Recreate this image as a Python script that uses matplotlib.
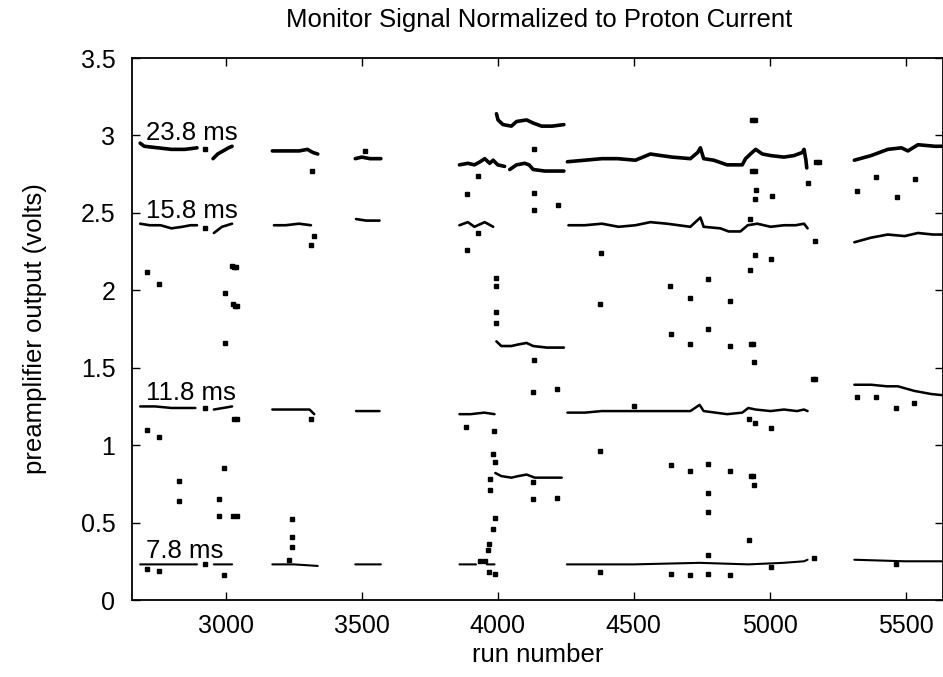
import numpy as np
import matplotlib
matplotlib.use("Agg")
import matplotlib.pyplot as plt

plt.rcParams["font.family"] = ["Liberation Sans", "DejaVu Sans"]

# --- data: runs of each delay, gaps split segments ---
SEG_238_X = [
    [2685, 2700, 2750, 2800, 2850, 2894],
    [2953, 2970, 2990, 3010, 3023],
    [3171, 3220, 3270, 3300, 3320, 3338],
    [3476, 3500, 3530, 3570],
    [3859, 3890, 3914, 3935, 3952, 3970, 3983, 4000, 4025],
    [3995, 4001, 4019, 4050, 4069, 4106, 4130, 4161, 4200, 4243],
    [4044, 4069, 4099, 4115, 4130, 4173, 4243],
    [4256, 4320, 4383, 4440, 4506, 4561, 4600, 4641, 4708, 4735, 4745, 4757,
     4794, 4843, 4899, 4911, 4929, 4948, 4973, 5003, 5052, 5089, 5120, 5126,
     5133, 5136],
    [5311, 5373, 5434, 5484, 5508, 5545, 5607, 5650],
]
SEG_238_Y = [
    [2.95, 2.93, 2.92, 2.91, 2.91, 2.92],
    [2.85, 2.88, 2.90, 2.92, 2.93],
    [2.90, 2.90, 2.90, 2.91, 2.89, 2.88],
    [2.85, 2.86, 2.85, 2.85],
    [2.81, 2.82, 2.81, 2.83, 2.85, 2.82, 2.84, 2.81, 2.80],
    [3.14, 3.10, 3.07, 3.06, 3.09, 3.10, 3.08, 3.06, 3.06, 3.07],
    [2.78, 2.81, 2.82, 2.81, 2.78, 2.77, 2.77],
    [2.83, 2.84, 2.85, 2.85, 2.84, 2.88, 2.87, 2.86, 2.85, 2.89, 2.92, 2.85,
     2.84, 2.81, 2.81, 2.85, 2.88, 2.91, 2.88, 2.87, 2.86, 2.87, 2.89, 2.91,
     2.84, 2.79],
    [2.84, 2.87, 2.91, 2.92, 2.90, 2.94, 2.93, 2.93],
]

SEG_158_X = [
    [2685, 2720, 2760, 2800, 2840, 2870, 2894],
    [2956, 2986, 3023],
    [3177, 3220, 3269, 3313],
    [3479, 3516, 3565],
    [3859, 3890, 3914, 3952, 3983],
    [3995, 4013, 4050, 4075, 4106, 4130, 4180, 4243],
    [4260, 4320, 4383, 4444, 4506, 4561, 4622, 4708, 4745, 4757, 4818, 4849,
     4892, 4919, 4954, 5003, 5052, 5095, 5126, 5139],
    [5311, 5373, 5434, 5496, 5545, 5600, 5650],
]
SEG_158_Y = [
    [2.43, 2.42, 2.42, 2.40, 2.41, 2.42, 2.42],
    [2.37, 2.41, 2.43],
    [2.42, 2.42, 2.43, 2.42],
    [2.46, 2.45, 2.45],
    [2.42, 2.44, 2.41, 2.44, 2.41],
    [1.67, 1.64, 1.64, 1.65, 1.66, 1.64, 1.63, 1.63],
    [2.42, 2.42, 2.43, 2.41, 2.42, 2.44, 2.43, 2.41, 2.47, 2.41, 2.40, 2.38,
     2.38, 2.42, 2.43, 2.41, 2.42, 2.42, 2.43, 2.40],
    [2.31, 2.34, 2.36, 2.35, 2.37, 2.36, 2.36],
]

SEG_118_X = [
    [2685, 2740, 2800, 2850, 2888],
    [2956, 2990, 3023],
    [3171, 3240, 3308, 3325],
    [3479, 3520, 3565],
    [3859, 3900, 3950, 3988],
    [3991, 4013, 4050, 4075, 4106, 4136, 4180, 4235],
    [4256, 4320, 4383, 4444, 4506, 4570, 4634, 4708, 4742, 4757, 4800, 4843,
     4899, 4921, 4948, 5003, 5052, 5100, 5126, 5139],
    [5311, 5373, 5430, 5471, 5532, 5594, 5650],
]
SEG_118_Y = [
    [1.25, 1.25, 1.24, 1.24, 1.24],
    [1.23, 1.24, 1.25],
    [1.23, 1.23, 1.23, 1.20],
    [1.22, 1.22, 1.22],
    [1.20, 1.20, 1.21, 1.20],
    [0.82, 0.80, 0.79, 0.80, 0.81, 0.79, 0.79, 0.79],
    [1.21, 1.21, 1.22, 1.22, 1.22, 1.22, 1.22, 1.22, 1.26, 1.22, 1.21, 1.20,
     1.21, 1.24, 1.23, 1.22, 1.23, 1.22, 1.23, 1.22],
    [1.39, 1.39, 1.38, 1.38, 1.35, 1.33, 1.32],
]

SEG_78_X = [
    [2685, 2894],
    [2956, 3023],
    [3171, 3250, 3338],
    [3476, 3570],
    [3859, 3920],
    [3960, 3988],
    [4254, 4500, 4742, 4921, 5050, 5126, 5139],
    [5311, 5496, 5650],
]
SEG_78_Y = [
    [0.23, 0.23],
    [0.23, 0.23],
    [0.23, 0.23, 0.22],
    [0.23, 0.23],
    [0.23, 0.23],
    [0.23, 0.23],
    [0.23, 0.23, 0.24, 0.23, 0.24, 0.25, 0.26],
    [0.26, 0.25, 0.25],
]

# isolated points (spikes, transitions, stray runs)
OUT_X = [2922, 3316, 3513, 3929, 3886, 4134, 4134, 4133, 4220, 4935, 4945,
         4935, 4945, 4948, 4946, 5007, 5139, 5170, 5180, 5320, 5391, 5469, 5533,
         2922, 3325, 3313, 2709, 2756, 2996, 2996, 3022, 3030, 3038, 3026, 3034,
         3042, 3927, 3886, 3992, 3992, 3992, 3992, 4134, 4131, 4216, 4378, 4376,
         4926, 5167, 4946, 5006, 4927, 4634, 4708, 4773, 4855, 4638, 4708, 4773,
         4855, 4932, 4940, 4941, 5160, 5168,
         2922, 3030, 3040, 3313, 2709, 2756, 2826, 2826, 2995, 2976, 2976, 3028,
         3040, 3245, 3245, 3245, 3233, 3884, 3985, 3984, 3990, 3970, 3970, 3990,
         3982, 3966, 3964, 4131, 4131, 4216, 4502, 4925, 4944, 5003, 4374, 4638,
         4708, 4773, 4855, 4932, 4940, 4941, 4773, 4773, 4925, 4773, 5319, 5389,
         5466, 5529, 5164,
         2709, 2756, 2993, 2922, 3933, 3952, 3966, 3988, 4374, 4638, 4708, 4773,
         4855, 5003, 5466]
OUT_Y = [2.91, 2.77, 2.90, 2.74, 2.62, 2.91, 2.63, 2.52, 2.55, 3.10, 3.10,
         2.77, 2.77, 2.65, 2.59, 2.61, 2.69, 2.83, 2.83, 2.64, 2.73, 2.60, 2.72,
         2.40, 2.35, 2.29, 2.12, 2.04, 1.98, 1.66, 2.16, 2.15, 2.15, 1.91, 1.90,
         1.90, 2.37, 2.26, 2.08, 2.03, 1.86, 1.79, 1.55, 1.34, 1.36, 2.24, 1.91,
         2.46, 2.32, 2.23, 2.20, 2.13, 2.03, 1.95, 2.07, 1.93, 1.72, 1.65, 1.75,
         1.64, 1.65, 1.65, 1.54, 1.43, 1.43,
         1.24, 1.17, 1.17, 1.17, 1.10, 1.05, 0.77, 0.64, 0.85, 0.65, 0.54, 0.54,
         0.54, 0.52, 0.41, 0.34, 0.26, 1.12, 1.09, 0.94, 0.89, 0.78, 0.71, 0.53,
         0.46, 0.36, 0.32, 0.76, 0.65, 0.66, 1.25, 1.17, 1.14, 1.11, 0.96, 0.87,
         0.83, 0.88, 0.83, 0.80, 0.80, 0.74, 0.69, 0.57, 0.39, 0.29, 1.31, 1.31,
         1.24, 1.27, 0.27,
         0.20, 0.19, 0.16, 0.23, 0.25, 0.25, 0.18, 0.17, 0.18, 0.17, 0.16, 0.17,
         0.16, 0.21, 0.23]

SERIES_LABELS = ["23.8 ms", "15.8 ms", "11.8 ms", "7.8 ms"]
LABEL_Y = [2.97, 2.465, 1.29, 0.27]

X_TICKS = [3000, 3500, 4000, 4500, 5000, 5500]
Y_TICKS = [0, 0.5, 1, 1.5, 2, 2.5, 3, 3.5]
Y_TICK_LABELS = ["0", "0.5", "1", "1.5", "2", "2.5", "3", "3.5"]


def joined(segs):
    out = []
    for s in segs:
        out.extend(s)
        out.append(np.nan)
    return np.array(out, dtype=float)


fig = plt.figure(figsize=(9.43, 6.77), dpi=100)
fig.patch.set_facecolor("white")
ax = fig.add_axes([132 / 943, 1 - 600 / 677, 1 - 132 / 943, (600 - 58) / 677])

for sx, sy, lw in [(SEG_238_X, SEG_238_Y, 2.6), (SEG_158_X, SEG_158_Y, 1.9),
                   (SEG_118_X, SEG_118_Y, 1.8), (SEG_78_X, SEG_78_Y, 1.5)]:
    ax.plot(joined(sx), joined(sy), color="black", lw=lw,
            solid_capstyle="round", solid_joinstyle="round")

ax.plot(OUT_X, OUT_Y, linestyle="none", marker="s", ms=2.2,
        color="black", mec="black")

for lbl, ly in zip(SERIES_LABELS, LABEL_Y):
    ax.text(2708, ly, lbl, fontsize=18.5, ha="left", va="baseline")

ax.set_xlim(2655, 5637)
ax.set_ylim(0, 3.5)
ax.set_xticks(X_TICKS)
ax.set_yticks(Y_TICKS)
ax.set_yticklabels(Y_TICK_LABELS)
ax.tick_params(direction="in", length=6, width=1.0, top=True, right=True,
               labelsize=18)
ax.tick_params(axis="x", pad=10)
ax.tick_params(axis="y", pad=12)
for sp in ax.spines.values():
    sp.set_linewidth(1.3)

ax.set_xlabel("run number", fontsize=18.5, labelpad=4)
ax.set_ylabel("preamplifier output (volts)", fontsize=18.5, labelpad=24)
fig.text(0.572, 0.970, "Monitor Signal Normalized to Proton Current",
         fontsize=18.5, ha="center", va="center")

fig.savefig("out.png", dpi=100, facecolor="white")
